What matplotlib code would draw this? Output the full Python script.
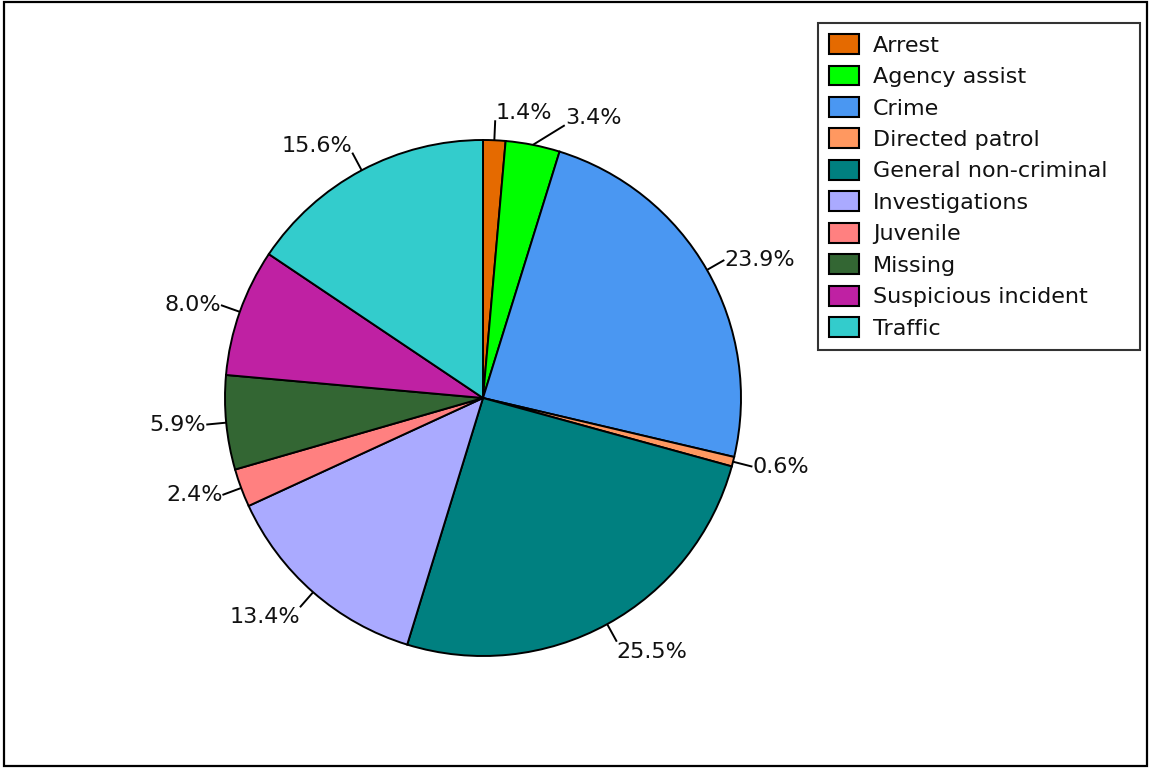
import numpy as np
import matplotlib
matplotlib.use("Agg")
import matplotlib.pyplot as plt
from matplotlib.patches import Rectangle

categories = ["Arrest", "Agency assist", "Crime", "Directed patrol",
              "General non-criminal", "Investigations", "Juvenile",
              "Missing", "Suspicious incident", "Traffic"]
shares = [1.4, 3.4, 23.9, 0.6, 25.5, 13.4, 2.4, 5.9, 8.0, 15.6]
colors = ["#E56A00", "#00FF00", "#4A97F2", "#FF9860", "#008080",
          "#AAAAFF", "#FF8080", "#336633", "#BF21A3", "#33CCCC"]
# sideways shift of a label's leader end (pixels) to keep small labels apart
label_shift = [0, 28, 0, 0, 0, 0, 0, 0, 0, 0]

W, H = 1151, 768
plt.rcParams["font.family"] = "DejaVu Sans"
plt.rcParams["text.color"] = "#111111"
fig = plt.figure(figsize=(W / 100, H / 100), dpi=100)

# square axes for the pie: 600 px wide, so 1 data unit = 300 px
cx, cy, half = 483, 398, 300
ax = fig.add_axes([(cx - half) / W, (H - cy - half) / H, 2 * half / W, 2 * half / H])

R = 258 / half
wedges, _ = ax.pie(shares, colors=colors, radius=R, startangle=90,
                   counterclock=False,
                   wedgeprops=dict(edgecolor="black", linewidth=1.4))
ax.set_xlim(-1, 1)
ax.set_ylim(-1, 1)
ax.set_aspect("equal")
ax.axis("off")

# percentage labels with short leaders
px = 1 / half
for w, v, sh in zip(wedges, shares, label_shift):
    ang = np.deg2rad((w.theta1 + w.theta2) / 2)
    c, s = np.cos(ang), np.sin(ang)
    x0, y0 = R * c, R * s
    x1, y1 = (R + 20 * px) * c + sh * px, (R + 20 * px) * s
    ax.plot([x0, x1], [y0, y1], color="black", lw=1.4, solid_capstyle="butt")
    ha = "left" if c >= 0 else "right"
    if s > 0.5:
        va = "bottom"
    elif s < -0.5:
        va = "top"
    else:
        va = "center"
    ax.text(x1, y1 - (3 * px if s > 0.5 else 0), f"{v:.1f}%",
            ha=ha, va=va, fontsize=16)

leg = fig.legend(wedges, categories, loc="upper left", mode="expand",
                 bbox_to_anchor=(818 / W, 1 - 350 / H, 322 / W, 327 / H),
                 borderaxespad=0,
                 fontsize=16, frameon=True, fancybox=False,
                 edgecolor="black", handlelength=1.35, handleheight=1.0,
                 labelspacing=0.445, borderpad=0.5, handletextpad=0.62)
leg.get_frame().set_linewidth(1.5)
for h in leg.legend_handles:
    h.set_edgecolor("black")
    h.set_linewidth(1.5)

fig.patches.append(Rectangle((4 / W, 2 / H), 1143 / W, 764 / H,
                             transform=fig.transFigure, fill=False,
                             edgecolor="black", linewidth=1.6))

fig.savefig("out.png", dpi=100)
